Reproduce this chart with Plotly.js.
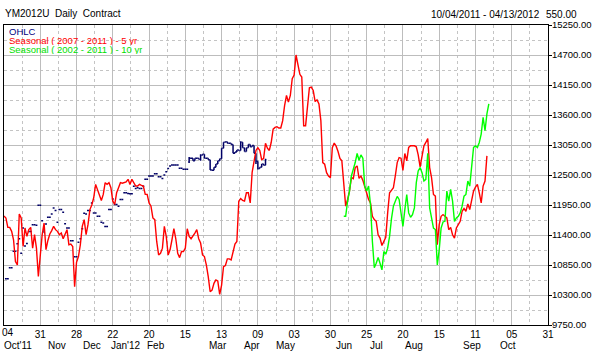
<!DOCTYPE html>
<html>
<head>
<meta charset="utf-8">
<script src="https://cdn.plot.ly/plotly-3.0.1.min.js"></script>
<style>html,body{margin:0;padding:0;background:#fff;}#chart{width:595px;height:355px;}</style>
</head>
<body>
<div id="chart"></div>
<script>
// ---- DATA (x = trading-day index from 04 Oct 2011) ----
const dayLabels = ['04','31','28','22','20','15','13','09','03','30','25','20','15','11','05','31'];
const monthLabels = ["Oct'11",'Nov','Dec',"Jan'12",'Feb','Mar','Apr','May','Jun','Jul','Aug','Sep','Oct'];

const ohlcFirstDay = 1;
const ohlcClose = [10600,10600,10800,10800,11100,11100,11240,11330,11065,11530,
 11200,11245,11465,11465,11590,11590,11577,11946,11946,11663,
 11440,11600,11724,11724,11785,11896,11850,11632,11866,11866,
 11816,11607,11527,11527,11294,11294,10999,10999,11268,11331,
 11515,11800,11785,11847,11847,11988,11803,11803,11742,11742,
 11632,11619,11558,11558,11866,11866,12062,11959,11960,11927,
 12050,12050,12173,12173,12160,12154,12154,12296,12254,12265,
 12254,12254,12296,12420,12420,12480,12480,12480,12523,12523,
 12468,12468,12438,12500,12560,12620,12666,12684,12684,12684,
 12684,12623,12623,12604,12604,12604,12808,12808,12760,12808,
 12808,12790,12860,12882,12808,12808,12780,12590,12586,12640,
 12700,12760,12800,12990,13100,13110,13080,13080,13060,12900,
 12920,12960,12950,13100,13000,12930,13000,13060,13020,13040,
 12900,12750,12620,12640,12700,12680,12780];
const ohlcOpen = [10600,10600,10800,10800,11100,11100,11240,11330,11065,11530,
 11200,11245,11465,11465,11590,11590,11577,11946,11946,11663,
 11560,11600,11724,11724,11785,11896,11850,11632,11866,11866,
 11816,11607,11527,11527,11294,11294,10999,10999,11268,11331,
 11515,11800,11785,11847,11847,11988,11803,11803,11742,11742,
 11632,11619,11558,11558,11866,11866,12062,11959,11960,11927,
 12050,12050,12173,12173,12160,12154,12154,12296,12254,12265,
 12254,12254,12296,12420,12420,12480,12480,12480,12523,12523,
 12468,12468,12438,12500,12560,12620,12666,12684,12684,12684,
 12684,12623,12623,12604,12604,12604,12740,12808,12808,12760,
 12808,12808,12790,12860,12882,12808,12808,12780,12590,12586,
 12640,12700,12760,12800,12990,13100,13110,13080,13080,13060,
 12900,12920,12960,12950,13100,13000,12930,13000,13060,13020,
 13040,12900,12750,12620,12640,12700,12680];
const ohlcHigh = [10600,10600,10800,10800,11100,11100,11240,11330,11065,11530,
 11200,11245,11465,11465,11590,11590,11577,11946,11946,11663,
 11560,11600,11724,11724,11785,11896,11850,11632,11866,11866,
 11816,11607,11527,11527,11294,11294,10999,10999,11268,11331,
 11515,11800,11785,11847,11847,11988,11803,11803,11742,11742,
 11632,11619,11558,11558,11866,11866,12062,11959,11960,11927,
 12050,12050,12173,12173,12160,12154,12154,12296,12254,12265,
 12254,12254,12296,12420,12420,12480,12480,12480,12523,12523,
 12468,12468,12438,12500,12560,12620,12666,12684,12684,12684,
 12684,12623,12623,12604,12604,12604,12830,12808,12808,12808,
 12808,12808,12880,12882,12882,12808,12808,12780,12590,12640,
 12700,12760,12800,12990,13100,13110,13110,13080,13080,13060,
 12920,12960,12960,13120,13100,13000,13000,13060,13060,13040,
 13040,12900,12750,12640,12700,12700,12800];
const ohlcLow = [10600,10600,10800,10800,11100,11100,11240,11330,11065,11530,
 11200,11245,11465,11465,11590,11590,11577,11946,11946,11663,
 11440,11600,11724,11724,11785,11896,11850,11632,11866,11866,
 11816,11607,11527,11527,11294,11294,10999,10999,11268,11331,
 11515,11800,11785,11847,11847,11988,11803,11803,11742,11742,
 11632,11619,11558,11558,11866,11866,12062,11959,11960,11927,
 12050,12050,12173,12173,12160,12154,12154,12296,12254,12265,
 12254,12254,12296,12420,12420,12480,12480,12480,12523,12523,
 12468,12468,12438,12500,12560,12620,12666,12684,12684,12684,
 12684,12623,12623,12604,12604,12604,12720,12808,12760,12760,
 12808,12790,12760,12860,12808,12808,12780,12590,12586,12586,
 12640,12700,12760,12800,12990,13100,13080,13080,13060,12900,
 12900,12920,12950,12950,13000,12930,12930,13000,13020,13020,
 12900,12700,12600,12620,12640,12680,12680];

const seasonal5FirstDay = 0;
const seasonal5 = [11750,11712,11540,11540,11467,11313,10913,10852,11786,11712,
 11190,11528,11374,11498,11540,11159,11406,11159,10640,11097,
 11406,11620,11130,11300,11418,11480,11559,11498,11467,11406,
 11436,11331,11418,11498,11221,11233,11190,10450,10900,11005,
 11221,11559,11682,11406,11590,11866,11950,12082,12328,12236,
 12144,12033,12144,12359,12328,12359,12266,12020,11959,12174,
 12266,12359,12350,12359,12375,12421,12328,12421,12359,12297,
 12297,12328,12310,12297,12144,12144,11989,11928,11712,11682,
 11282,11035,11066,11159,11559,11374,11035,11128,11313,11515,
 11331,11066,10985,11097,11097,11159,11515,11374,11331,11374,
 11436,11498,11331,11252,11035,11005,10852,10636,10359,10390,
 10513,10575,10556,10310,10482,10820,10840,10962,10962,10943,
 11097,11233,11282,12020,12069,12033,12020,12174,12174,11989,
 12550,12780,12950,13000,12950,12780,12800,13080,12992,12950,
 13100,13340,13373,13386,13361,13361,13496,13773,13958,13835,
 13958,14265,14333,14700,14542,14346,14296,13404,13404,13835,
 14099,14112,14050,13847,13878,13804,13496,12727,12697,12543,
 12481,12451,13000,13085,13029,12931,12802,12759,12250,11930,
 12051,12205,12451,12432,12636,12666,12439,12482,12402,12279,
 12205,12051,11990,11743,11682,11651,11405,11344,11208,11282,
 11356,11805,12174,12217,12266,12482,12728,12820,12808,12586,
 12894,12759,13005,13035,13035,13035,13017,12869,12648,12880,
 13035,13097,13170,12636,12451,12143,12112,11221,11590,11743,
 11774,11743,11713,11497,11540,11405,11344,11528,11590,11651,
 11836,11885,11836,11971,11866,12020,12205,12279,12328,12174,
 11990,12297,12389,12851];

const seasonal10FirstDay = 178;
const seasonal10 = [11743,11743,12020,12205,12482,12586,12728,12894,12771,12869,
 12808,12297,12205,12297,11959,11282,10802,10882,10987,10882,
 10760,11097,11048,11159,11374,11700,11928,12020,12106,12051,
 11774,11559,11866,12143,11805,11725,11774,11897,12359,12574,
 12636,12543,12389,12420,12900,11897,11713,11528,11500,10851,
 11128,11528,11639,11651,12205,12020,12236,12020,11651,11713,
 11743,11805,11928,12112,12143,12389,12297,12728,13005,13035,
 13005,13097,13250,13558,13312,13620,13804];

// ---- LAYOUT HELPERS ----
const FONT = 'Arial, "Liberation Sans", sans-serif';
const tickStep = 19;
const tickVals = dayLabels.map((_, i) => i * tickStep);
// the first day label sits at the plot's left edge; it is drawn as a left-anchored annotation instead
const tickText = dayLabels.map((d, i) => i === 0 ? '' : d);
const monthPos = [null, 27.8, 46.1, 63.9, 79.6, 112.1, 129.9, 147.7, 178.1, 195.4, 214.8, 245.2, 264.0];
const idx = (arr, first) => arr.map((_, i) => i + first);

const traces = [
  {type:'scatter', mode:'lines', x: idx(seasonal5, seasonal5FirstDay), y: seasonal5,
   line:{color:'#ff0000', width:1.4}, hoverinfo:'skip'},
  {type:'scatter', mode:'lines', x: idx(seasonal10, seasonal10FirstDay), y: seasonal10,
   line:{color:'#00ff00', width:1.4}, hoverinfo:'skip'},
  {type:'ohlc', x: idx(ohlcClose, ohlcFirstDay), open: ohlcOpen, high: ohlcHigh, low: ohlcLow, close: ohlcClose,
   increasing:{line:{color:'#000066', width:1.5}}, decreasing:{line:{color:'#000066', width:1.5}},
   tickwidth:0.5, hoverinfo:'skip'}
];

const legendLine = (text, color, yPx) => ({
  text:text, xref:'paper', yref:'paper', x:4/544, y:1-yPx/300, xanchor:'left', yanchor:'middle',
  height:9, valign:'middle', borderpad:0, showarrow:false, font:{family:FONT, size:9.5, color:color}
});

const annotations = [
  {text:'10/04/2011 - 04/13/2012', xref:'paper', yref:'paper', x:(542-4)/544, y:1+11/300, xanchor:'right', yanchor:'middle', showarrow:false, font:{family:FONT, size:10, color:'#000'}},
  {text:'550.00', xref:'paper', yref:'paper', x:(579-4)/544, y:1+11/300, xanchor:'right', yanchor:'middle', showarrow:false, font:{family:FONT, size:10, color:'#000'}},
  legendLine('OHLC', '#000080', 6),
  legendLine('Seasonal ( 2007 - 2011 ) - 5 yr', '#ff0000', 15.5),
  legendLine('Seasonal ( 2002 - 2011 ) - 10 yr', '#00e000', 24.5),
  {text:dayLabels[0], xref:'paper', yref:'paper', x:(1-4)/544, y:-7.5/300, xanchor:'left', yanchor:'middle',
   borderpad:0, showarrow:false, font:{family:FONT, size:10, color:'#000'}}
];
monthLabels.forEach((m, i) => {
  const first = (i === 0);
  annotations.push({
    text:m, xref: first ? 'paper' : 'x', yref:'paper',
    x: first ? (2-4)/544 : monthPos[i], y:-20/300,
    xanchor: first ? 'left' : 'center', yanchor:'middle',
    showarrow:false, font:{family:FONT, size:10, color:'#000'}
  });
});

const layout = {
  width:595, height:355,
  margin:{l:4, r:47, t:25, b:30, pad:0},
  paper_bgcolor:'#fff', plot_bgcolor:'#fff',
  showlegend:false,
  font:{family:FONT, size:10, color:'#000'},
  title:{text:'YM2012U\u00a0\u00a0Daily\u00a0\u00a0Contract', x:5/595, xref:'container', xanchor:'left',
         y:1-13/355, yref:'container', yanchor:'middle', font:{family:FONT, size:10, color:'#000'}},
  xaxis:{range:[0,285], tickmode:'array', tickvals:tickVals, ticktext:tickText,
         showgrid:true, gridcolor:'#bdbdbd', gridwidth:1, zeroline:false,
         showline:true, linecolor:'#000', linewidth:1, mirror:true, ticks:'',
         ticklabeloverflow:'allow',
         tickfont:{family:FONT, size:10, color:'#000'}, rangeslider:{visible:false},
         minor:{tick0:0, dtick:tickStep/2, showgrid:true, gridcolor:'#c4c4c4', griddash:'dot', gridwidth:1}},
  yaxis:{range:[9750,15250], side:'right', tickmode:'linear', tick0:9750, dtick:550, tickformat:'.2f',
         showgrid:true, gridcolor:'#bdbdbd', gridwidth:1, zeroline:false,
         showline:true, linecolor:'#000', linewidth:1, mirror:true, ticks:'outside', ticklen:3, tickcolor:'#000',
         ticklabelstandoff:-2, ticklabeloverflow:'allow',
         tickfont:{family:FONT, size:9.5, color:'#000'},
         minor:{tick0:9750, dtick:275, showgrid:true, gridcolor:'#c4c4c4', griddash:'dot', gridwidth:1}},
  annotations: annotations
};

Plotly.newPlot('chart', traces, layout, {displayModeBar:false, staticPlot:true});
</script>
</body>
</html>
